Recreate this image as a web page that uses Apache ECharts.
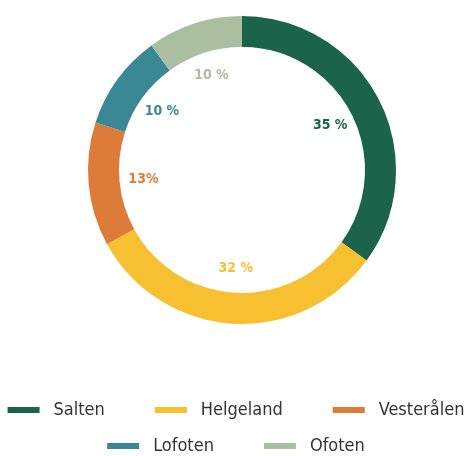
<!DOCTYPE html>
<html lang="no" style="height: 100%">
<head>
  <meta charset="utf-8">
  <title>Fordeling per region</title>
</head>
<body style="height: 100%; margin: 0; background: #ffffff;">
  <div id="container" style="width: 472px; height: 456px;"></div>

  <script src="https://cdn.jsdelivr.net/npm/echarts@6/dist/echarts.min.js"></script>
  <script type="text/javascript">
    const regioner = ['Salten', 'Helgeland', 'Vesterålen', 'Lofoten', 'Ofoten'];
    const andeler = [35, 32, 13, 10, 10];
    const etiketter = ['35 %', '32 %', '13%', '10 %', '10 %'];
    const farger = ['#1b644b', '#f6c031', '#dd7b38', '#3a8896', '#a9bf9f'];

    const font = "'DejaVu Sans Condensed', sans-serif";

    const dom = document.getElementById('container');
    const myChart = echarts.init(dom, null, { renderer: 'canvas' });

    const ring = regioner.map((navn, i) => ({
      name: navn,
      value: andeler[i],
      itemStyle: { color: farger[i] }
    }));

    // usynlig pai som bare bærer etikettene inne i ringen
    const tekst = regioner.map((navn, i) => ({
      name: navn,
      value: andeler[i],
      itemStyle: { color: 'rgba(0,0,0,0)' },
      label: { formatter: etiketter[i], color: farger[i] }
    }));

    const legendStil = {
      orient: 'horizontal',
      left: 'center',
      width: 472,
      padding: 0,
      itemWidth: 32,
      itemHeight: 6,
      itemGap: 50,
      icon: 'rect',
      textStyle: { fontFamily: font, fontSize: 18, color: '#333333', padding: [0, 0, 0, 9] }
    };

    const option = {
      animation: false,
      color: farger,
      legend: [
        Object.assign({ top: 401, data: regioner.slice(0, 3) }, legendStil),
        Object.assign({ top: 437, data: regioner.slice(3) }, legendStil)
      ],
      series: [
        {
          type: 'pie',
          radius: [123, 154],
          center: [242, 170],
          startAngle: 90,
          clockwise: true,
          silent: true,
          label: { show: false },
          labelLine: { show: false },
          itemStyle: { borderWidth: 0 },
          data: ring
        },
        {
          type: 'pie',
          radius: [0, 192],
          center: [242, 170],
          startAngle: 90,
          clockwise: true,
          silent: true,
          legendHoverLink: false,
          label: {
            show: true,
            position: 'inside',
            fontFamily: font,
            fontWeight: 'bold',
            fontSize: 14
          },
          labelLine: { show: false },
          itemStyle: { borderWidth: 0 },
          data: tekst
        }
      ]
    };

    myChart.setOption(option);
    window.addEventListener('resize', myChart.resize);
  </script>
</body>
</html>
